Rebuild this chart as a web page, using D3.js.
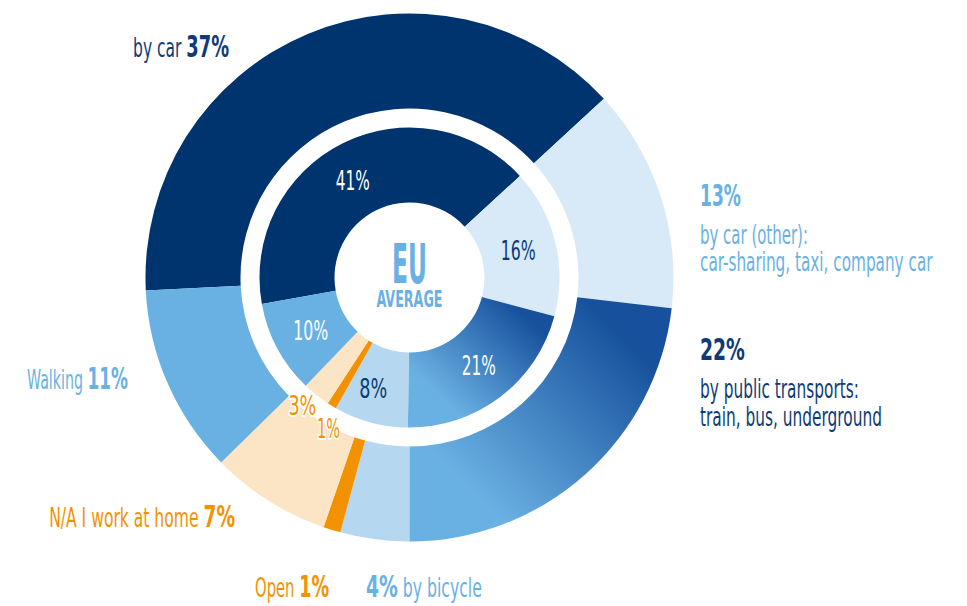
<!DOCTYPE html>
<html>
<head>
<meta charset="utf-8">
<script src="https://cdn.jsdelivr.net/npm/d3@7"></script>
<style>
  html, body { margin: 0; padding: 0; background: #ffffff; }
  svg { display: block; }
  text { font-family: "Liberation Sans Narrow", "DejaVu Sans Condensed", "Liberation Sans", sans-serif; }
</style>
</head>
<body>
<svg id="chart" width="967" height="606"></svg>
<script>
// ---- data ----
const categories = ["by car", "by car (other)", "by public transports", "by bicycle", "Open", "N/A I work at home", "Walking"];
const outerValues = [37, 13, 22, 4, 1, 7, 11];   // outer ring (%)
const innerValues = [41, 16, 21, 8, 1, 3, 10];   // inner ring (EU average, %)
const sliceColors = ["#00346f", "#d8eaf7", "url(#gradPublic)", "#b5d8f0", "#f39200", "#fce5c4", "#6ab1e3"];
const innerLabelColors = ["#ffffff", "#0c3a75", "#ffffff", "#0c3a75", "#f39200", "#f39200", "#ffffff"];

// ---- layout ----
const svg = d3.select("#chart");
const cx = 409.5, cy = 277.5;
const deg = Math.PI / 180;

const defs = svg.append("defs");
const grad = defs.append("linearGradient").attr("id", "gradPublic")
  .attr("x1", 0.95).attr("y1", 0.1).attr("x2", 0.1).attr("y2", 0.9);
grad.append("stop").attr("offset", "0.12").attr("stop-color", "#17519d");
grad.append("stop").attr("offset", "0.85").attr("stop-color", "#6ab1e3");

const g = svg.append("g").attr("transform", `translate(${cx},${cy})`);

const outerStart = -92.8 * deg;
const innerStart = -100.2 * deg;
const pieOuter = d3.pie().sort(null).startAngle(outerStart).endAngle(outerStart + 2 * Math.PI);
const pieInner = d3.pie().sort(null).startAngle(innerStart).endAngle(innerStart + 2 * Math.PI);

const arcOuter = d3.arc().innerRadius(169).outerRadius(264);
const arcInner = d3.arc().innerRadius(75).outerRadius(150);

g.selectAll("path.outer").data(pieOuter(outerValues)).enter().append("path")
  .attr("class", "outer")
  .attr("d", arcOuter)
  .attr("fill", (d, i) => sliceColors[i]);

g.selectAll("path.inner").data(pieInner(innerValues)).enter().append("path")
  .attr("class", "inner")
  .attr("d", arcInner)
  .attr("fill", (d, i) => sliceColors[i]);

// fit a text element horizontally to a target width (condensed look)
function fit(t, x, y, width) {
  const w = t.node().getBBox().width;
  const sx = w > 0 ? width / w : 1;
  t.attr("transform", `translate(${x},${y}) scale(${sx},1)`);
  return t;
}

// inner labels
const innerArcs = pieInner(innerValues);
const labelRadius = [112, 112, 112, 117, 171, 167, 112];
const labelAngleShift = [-4, 0, -1, 3, -2.9, 1.5, 0];
const innerLabelWidth = [34, 35, 34, 28, 23, 28, 35];
innerArcs.forEach((d, i) => {
  const a = (d.startAngle + d.endAngle) / 2 + labelAngleShift[i] * deg;
  const r = labelRadius[i];
  const x = r * Math.sin(a), y = -r * Math.cos(a);
  const t = g.append("text")
    .attr("text-anchor", "middle")
    .attr("font-size", 27)
    .attr("fill", innerLabelColors[i])
    .text(innerValues[i] + "%");
  if (i === 4 || i === 5) {
    t.attr("stroke", "#ffffff").attr("stroke-width", 3.5).attr("paint-order", "stroke").attr("stroke-linejoin", "round");
  }
  fit(t, x, y + 9.5, innerLabelWidth[i]);
});

// center
fit(g.append("text").attr("text-anchor", "middle").attr("font-size", 56).attr("font-weight", "bold")
  .attr("fill", "#6ab1e3").text("EU"), 0, 5.5, 35);
fit(g.append("text").attr("text-anchor", "middle").attr("font-size", 23).attr("font-weight", "bold")
  .attr("fill", "#6ab1e3").text("AVERAGE"), 0, 29.5, 66);

// outer labels
const navy = "#0f3b77", light = "#6ab1e3", orange = "#f39200";
function label(x, y, anchor, width, parts) {
  const t = svg.append("text").attr("text-anchor", anchor);
  parts.forEach(p => {
    t.append("tspan").attr("font-size", p.size).attr("font-weight", p.bold ? "bold" : "normal")
      .attr("fill", p.fill).text(p.text);
  });
  fit(t, x, y, width);
}
label(229, 57, "end", 96, [{text: "by car ", size: 27, fill: navy}, {text: outerValues[0] + "%", size: 31, bold: true, fill: navy}]);
label(700, 206, "start", 41, [{text: outerValues[1] + "%", size: 31, bold: true, fill: light}]);
label(700, 244, "start", 108, [{text: "by car (other):", size: 26, fill: light}]);
label(700, 271, "start", 233, [{text: "car-sharing, taxi, company car", size: 26, fill: light}]);
label(700, 360, "start", 45, [{text: outerValues[2] + "%", size: 31, bold: true, fill: navy}]);
label(700, 398, "start", 159, [{text: "by public transports:", size: 26, fill: navy}]);
label(700, 426, "start", 182, [{text: "train, bus, underground", size: 26, fill: navy}]);
label(128, 389, "end", 101, [{text: "Walking ", size: 26, fill: light}, {text: outerValues[6] + "%", size: 31, bold: true, fill: light}]);
label(235, 527, "end", 186, [{text: "N/A I work at home ", size: 26, fill: orange}, {text: outerValues[5] + "%", size: 31, bold: true, fill: orange}]);
label(329, 597, "end", 74, [{text: "Open ", size: 26, fill: orange}, {text: outerValues[4] + "%", size: 31, bold: true, fill: orange}]);
label(366, 597, "start", 116, [{text: outerValues[3] + "%", size: 31, bold: true, fill: light}, {text: " by bicycle", size: 26, fill: light}]);
</script>
</body>
</html>
